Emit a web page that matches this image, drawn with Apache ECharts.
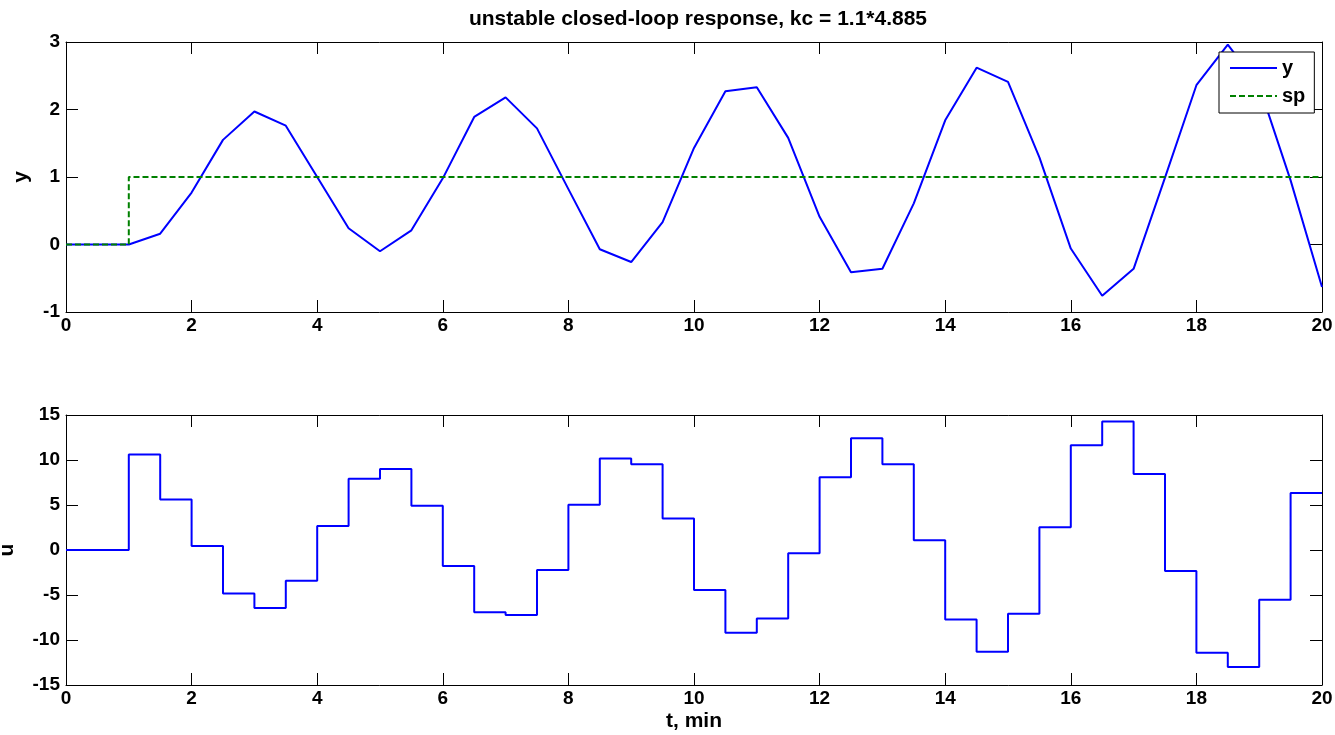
<!DOCTYPE html>
<html>
<head>
<meta charset="utf-8">
<title>unstable closed-loop response</title>
<script src="https://cdn.jsdelivr.net/npm/echarts@6/dist/echarts.min.js"></script>
<style>
	html, body{
		margin: 0;
		padding: 0;
		background: #fff;
	}
	#chart{
		width: 1335px;
		height: 735px;
	}
</style>
</head>
<body>
<div id="chart"></div>
<script>
// time axis, min
var tValues = [0, 0.5, 1, 1.5, 2, 2.5, 3, 3.5, 4, 4.5, 5, 5.5, 6, 6.5, 7, 7.5, 8, 8.5, 9, 9.5,
	10, 10.5, 11, 11.5, 12, 12.5, 13, 13.5, 14, 14.5, 15, 15.5, 16, 16.5, 17, 17.5, 18, 18.5, 19, 19.5, 20];
// process output y
var yValues = [0, 0, 0, 0.16, 0.77, 1.55, 1.97, 1.76, 1.0, 0.24, -0.10, 0.21, 0.98, 1.89, 2.18, 1.72, 0.82, -0.07, -0.26, 0.33,
	1.43, 2.27, 2.33, 1.58, 0.41, -0.41, -0.36, 0.61, 1.84, 2.62, 2.41, 1.29, -0.06, -0.76, -0.36, 0.99, 2.36, 2.96, 2.35, 0.95, -0.63];
// set point sp
var spValues = [0, 0, 1, 1, 1, 1, 1, 1, 1, 1, 1, 1, 1, 1, 1, 1, 1, 1, 1, 1,
	1, 1, 1, 1, 1, 1, 1, 1, 1, 1, 1, 1, 1, 1, 1, 1, 1, 1, 1, 1, 1];
// controller output u (held for each 0.5 min step)
var uValues = [0, 0, 10.6, 5.6, 0.44, -4.82, -6.45, -3.41, 2.67, 7.93, 9.01, 4.93, -1.78, -6.93, -7.23, -2.22, 5.04, 10.16, 9.53, 3.49,
	-4.45, -9.2, -7.6, -0.37, 8.08, 12.42, 9.53, 1.08, -7.71, -11.31, -7.08, 2.52, 11.64, 14.28, 8.45, -2.34, -11.42, -13.01, -5.52, 6.34, 6.34];

var xTicks = [0, 20, 2];
var yTicksTop = [-1, 3, 1];
var yTicksBottom = [-15, 15, 5];

function pairs(xs, vs) {
	return xs.map(function (x, i) { return [x, vs[i]]; });
}

var tickFont = {
	fontFamily: 'Liberation Sans',
	fontWeight: 'bold',
	fontSize: 19,
	color: '#000'
};
var nameFont = Object.assign({}, tickFont, { fontSize: 21 });

function axis(gridIndex, position, range, showLabel, extra) {
	var a = {
		type: 'value',
		gridIndex: gridIndex,
		position: position,
		min: range[0],
		max: range[1],
		interval: range[2],
		splitLine: { show: false },
		axisLine: { show: true, onZero: false, lineStyle: { color: '#000', width: 1 } },
		axisTick: { show: true, inside: true, length: 12, lineStyle: { color: '#000', width: 1 } },
		axisLabel: Object.assign({ show: showLabel, margin: position === 'left' ? 6 : 4 }, tickFont),
		nameTextStyle: nameFont
	};
	return Object.assign(a, extra || {});
}

var chart = echarts.init(document.getElementById('chart'), null, { renderer: 'canvas' });

var option = {
	animation: false,
	backgroundColor: '#fff',
	title: {
		text: 'unstable closed-loop response, kc = 1.1*4.885',
		left: 693,
		top: 4,
		textAlign: 'center',
		textStyle: {
			fontFamily: 'Liberation Sans',
			fontWeight: 'bold',
			fontSize: 21,
			color: '#000'
		}
	},
	legend: {
		data: ['y', 'sp'],
		orient: 'vertical',
		left: 1219,
		top: 52,
		backgroundColor: '#fff',
		borderColor: '#000',
		borderWidth: 1,
		borderRadius: 0,
		padding: [6, 9, 7, 10],
		itemWidth: 47,
		itemHeight: 14,
		itemGap: 8,
		itemStyle: { opacity: 0 },
		textStyle: Object.assign({}, tickFont, { fontSize: 20 })
	},
	grid: [
		{ left: 66, right: 13, top: 42, height: 270, outerBoundsMode: 'none', containLabel: false },
		{ left: 66, right: 13, top: 415, height: 270, outerBoundsMode: 'none', containLabel: false }
	],
	xAxis: [
		axis(0, 'bottom', xTicks, true),
		axis(0, 'top', xTicks, false),
		axis(1, 'bottom', xTicks, true, { name: 't, min', nameLocation: 'middle', nameGap: 26 }),
		axis(1, 'top', xTicks, false)
	],
	yAxis: [
		axis(0, 'left', yTicksTop, true, { name: 'y', nameLocation: 'middle', nameGap: 34 }),
		axis(0, 'right', yTicksTop, false),
		axis(1, 'left', yTicksBottom, true, { name: 'u', nameLocation: 'middle', nameGap: 48 }),
		axis(1, 'right', yTicksBottom, false)
	],
	series: [
		{
			name: 'y',
			type: 'line',
			xAxisIndex: 0,
			yAxisIndex: 0,
			symbol: 'none',
			color: '#0000ff',
			lineStyle: { color: '#0000ff', width: 2 },
			data: pairs(tValues, yValues),
			z: 3
		},
		{
			name: 'sp',
			type: 'line',
			xAxisIndex: 0,
			yAxisIndex: 0,
			symbol: 'none',
			step: 'end',
			color: '#008000',
			lineStyle: { color: '#008000', width: 2, type: [6, 3] },
			data: pairs(tValues, spValues),
			z: 4
		},
		{
			name: 'u',
			type: 'line',
			xAxisIndex: 2,
			yAxisIndex: 2,
			symbol: 'none',
			step: 'end',
			color: '#0000ff',
			lineStyle: { color: '#0000ff', width: 2 },
			data: pairs(tValues, uValues)
		}
	]
};

chart.setOption(option);
</script>
</body>
</html>
